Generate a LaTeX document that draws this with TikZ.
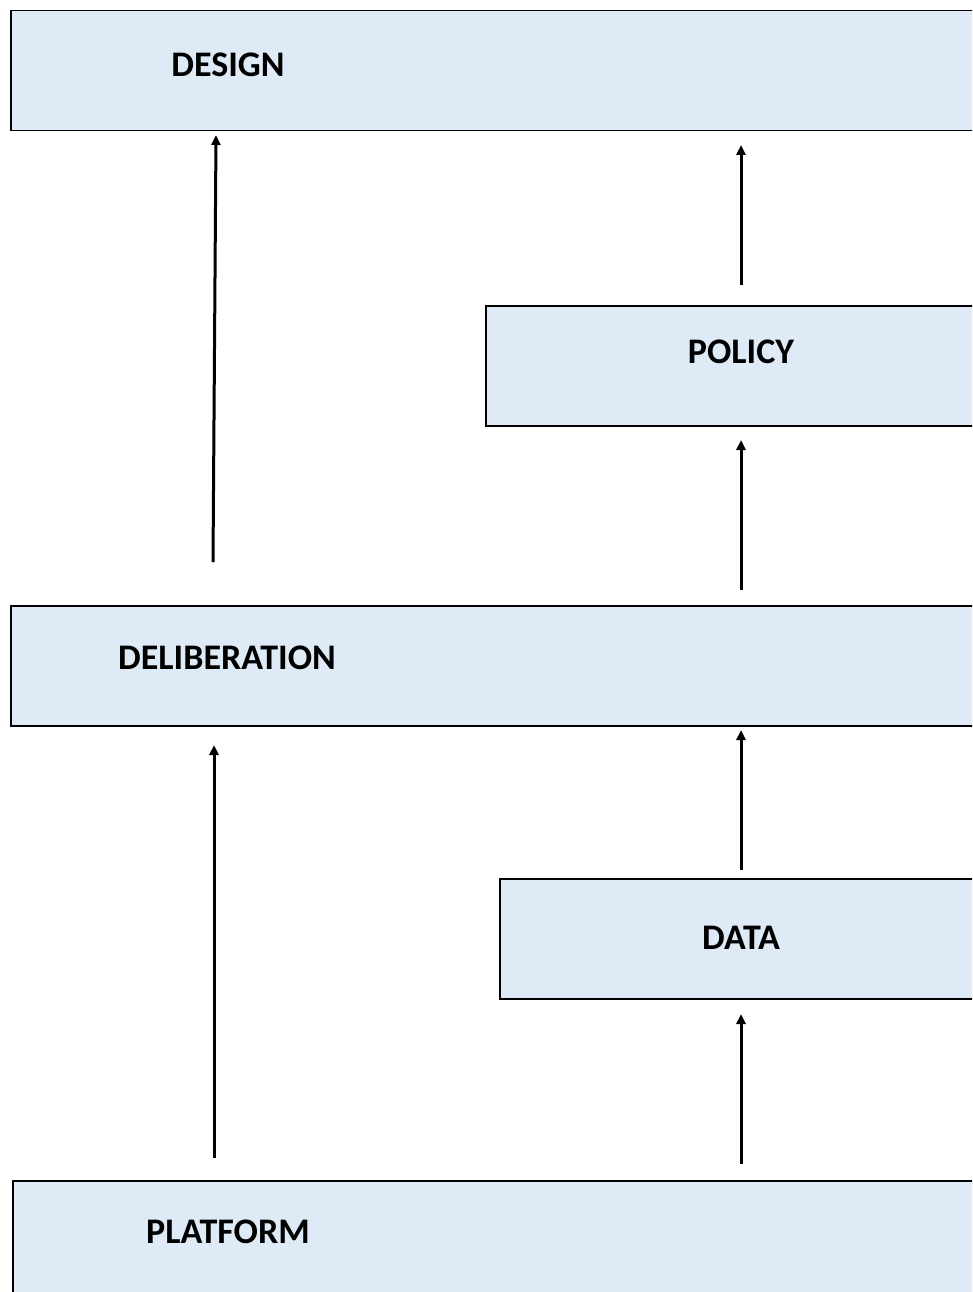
\documentclass[tikz,border=0pt]{standalone}
\usepackage{fontspec}
\setmainfont{Carlito}
\usetikzlibrary{arrows.meta}
\definecolor{boxblue}{HTML}{DEEAF6}

\begin{document}
\begin{tikzpicture}[x=1pt, y=-1pt,
  layer/.style={draw=black, fill=boxblue, line width=1.5pt, anchor=north west, inner sep=0pt},
  tag/.style={font=\fontsize{36}{43}\selectfont\bfseries, inner sep=0pt},
  flow/.style={line width=3pt, -{Triangle[width=9pt, length=10pt]}}
]
\useasboundingbox (0,0) rectangle (972,1292);
\clip (0,0) rectangle (972,1292);

% ---- Layers ----
\node[layer, minimum width=980, minimum height=120] (designbox) at (10, 10)   {};
\node[layer, minimum width=500, minimum height=120] (policybox) at (485, 305)  {};
\node[layer, minimum width=980, minimum height=120] (delibbox)  at (10, 605)  {};
\node[layer, minimum width=490, minimum height=120] (databox)   at (499, 878)  {};
\node[layer, minimum width=980, minimum height=140] (platbox)   at (12, 1180) {};

% ---- Labels ----
\node[tag] (design)   at (228, 65)   {DESIGN};
\node[tag] (policy)   at (741, 352)  {POLICY};
\node[tag] (delib)    at (227, 658)  {DELIBERATION};
\node[tag] (data)     at (741, 938)  {DATA};
\node[tag] (platform) at (228, 1232) {PLATFORM};

% ---- Arrow ends ----
\coordinate (d1) at (216, 135);
\coordinate (d2) at (741, 145);
\coordinate (p1) at (741, 285);
\coordinate (p2) at (741, 440);
\coordinate (l1) at (213, 562);
\coordinate (l2) at (741, 590);
\coordinate (l3) at (214, 745);
\coordinate (l4) at (741, 730);
\coordinate (a1) at (741, 870);
\coordinate (a2) at (741, 1014);
\coordinate (f1) at (214, 1158);
\coordinate (f2) at (741, 1164);

% ---- Arrows ----
\draw[flow] (l1) -- (d1);
\draw[flow] (p1) -- (d2);
\draw[flow] (l2) -- (p2);
\draw[flow] (f1) -- (l3);
\draw[flow] (a1) -- (l4);
\draw[flow] (f2) -- (a2);
\end{tikzpicture}
\end{document}
